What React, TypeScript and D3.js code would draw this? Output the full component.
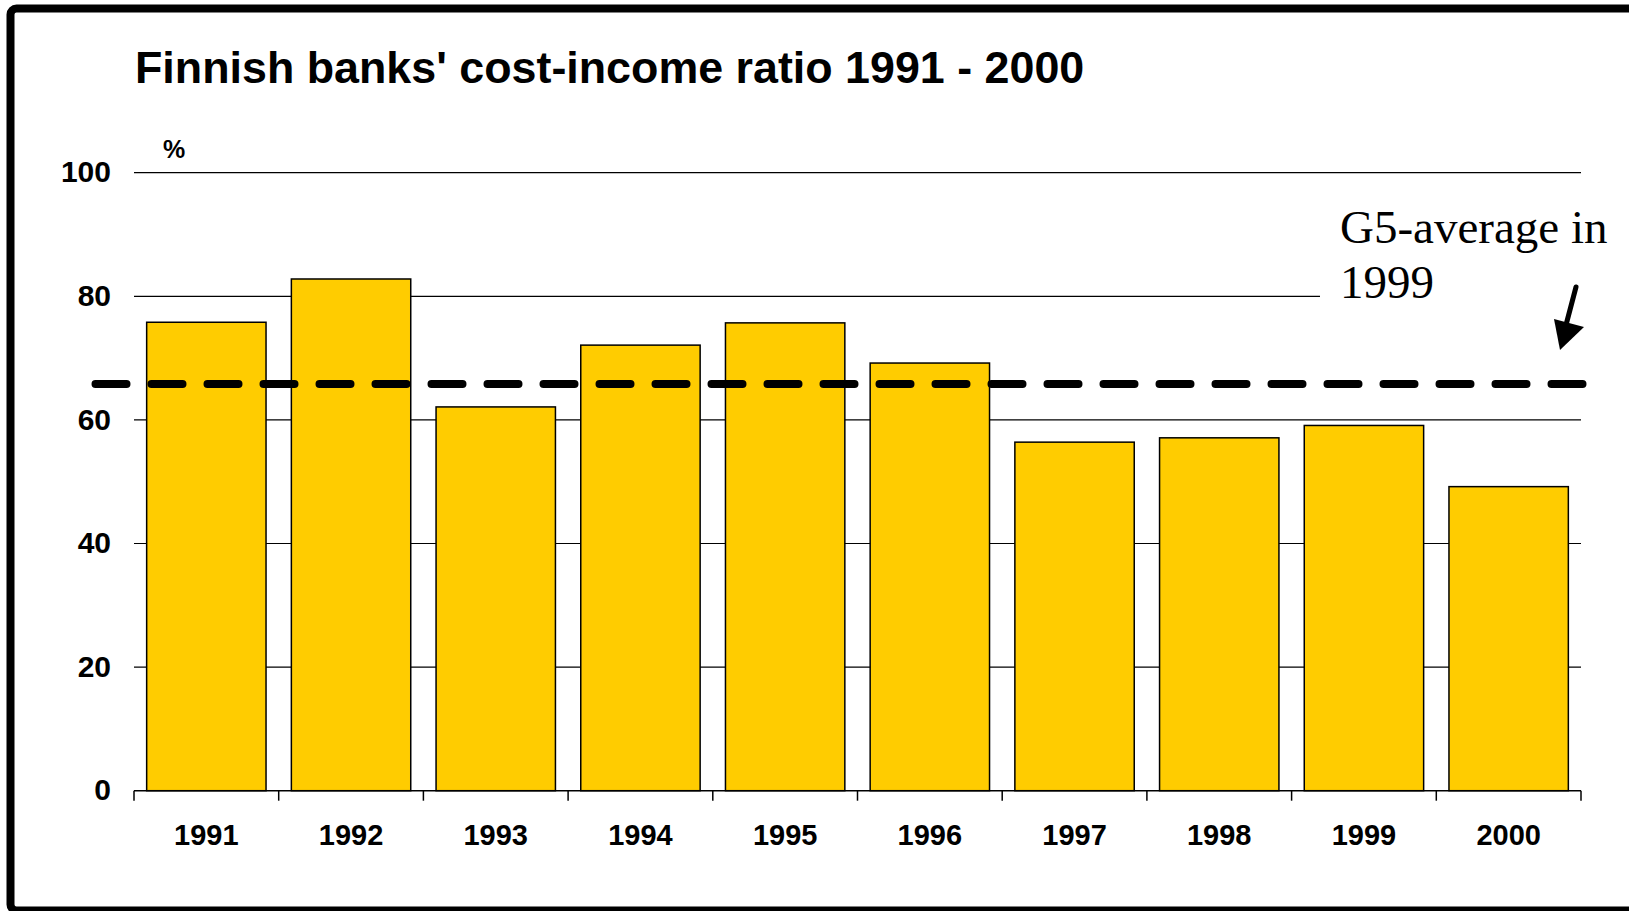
import React from 'react';
import * as d3 from 'd3';

const years = ['1991', '1992', '1993', '1994', '1995', '1996', '1997', '1998', '1999', '2000'];
const costIncome = [75.8, 82.8, 62.1, 72.1, 75.7, 69.2, 56.4, 57.1, 59.1, 49.2];
const yTicks = [0, 20, 40, 60, 80, 100];
const g5Average = 65.8;
const noteLines = ['G5-average in', '1999'];

const width = 1629;
const height = 911;
const left = 134;
const right = 1581;
const top = 172.7;
const bottom = 790.7;

const App = () => {
  const x = d3.scaleBand<string>()
    .domain(years)
    .range([left, right])
    .paddingInner(0.175)
    .paddingOuter(0.0875);

  const y = d3.scaleLinear().domain([0, 100]).range([bottom, top]);

  const step = x.step();
  const boundaries = d3.range(years.length + 1).map(i => left + i * step);
  const avgY = y(g5Average);

  const arrowTip: [number, number] = [1560, 350];

  return (
    <svg width={width} height={height} style={{ position: 'absolute', left: 0, top: 0, background: '#fff' }}>
      <rect x={10.5} y={8.5} width={1700} height={902} rx={6} fill="#fff" stroke="#000" strokeWidth={8} />

      <text x={135} y={83} fontFamily="'Liberation Sans', Arial, sans-serif" fontWeight="bold" fontSize={44.8}>
        Finnish banks' cost-income ratio 1991 - 2000
      </text>

      {/* gridlines */}
      {yTicks.filter(t => t > 0).map(t => (
        <line key={t} x1={left} x2={right} y1={y(t)} y2={y(t)} stroke="#000" strokeWidth={1.2} />
      ))}
      {yTicks.map(t => (
        <text key={'l' + t} x={111} y={y(t)} dy="0.32em" textAnchor="end"
          fontFamily="'Liberation Sans', Arial, sans-serif" fontWeight="bold" fontSize={30}>
          {t}
        </text>
      ))}
      <text x={163} y={158} fontFamily="'Liberation Sans', Arial, sans-serif" fontWeight="bold" fontSize={25}>%</text>

      {/* white box behind the note */}
      <rect x={1320} y={195} width={309} height={120} fill="#fff" />

      {/* bars */}
      {years.map((yr, i) => (
        <rect key={yr} x={x(yr)} y={y(costIncome[i])} width={x.bandwidth()} height={bottom - y(costIncome[i])}
          fill="#FFCC00" stroke="#000" strokeWidth={1.5} />
      ))}

      {/* x axis */}
      <line x1={left} x2={right} y1={bottom} y2={bottom} stroke="#000" strokeWidth={1.5} />
      {boundaries.map((bx, i) => (
        <line key={i} x1={bx} x2={bx} y1={bottom} y2={bottom + 10} stroke="#000" strokeWidth={1.5} />
      ))}
      {years.map(yr => (
        <text key={'x' + yr} x={(x(yr) as number) + x.bandwidth() / 2} y={845} textAnchor="middle"
          fontFamily="'Liberation Sans', Arial, sans-serif" fontWeight="bold" fontSize={29}>
          {yr}
        </text>
      ))}

      {/* G5 average */}
      <line x1={left - 38.5} x2={right + 1.5} y1={avgY} y2={avgY} stroke="#000" strokeWidth={8}
        strokeLinecap="round" strokeDasharray="31 25" />

      {noteLines.map((s, i) => (
        <text key={s} x={1340} y={243 + i * 55} fontFamily="'Liberation Serif', 'Times New Roman', serif" fontSize={47}>
          {s}
        </text>
      ))}

      <line x1={1576} y1={287} x2={1566} y2={325} stroke="#000" strokeWidth={5} strokeLinecap="round" />
      <polygon points={`1554,319 1584,327 ${arrowTip[0]},${arrowTip[1]}`} fill="#000" />
    </svg>
  );
};

export default App;
